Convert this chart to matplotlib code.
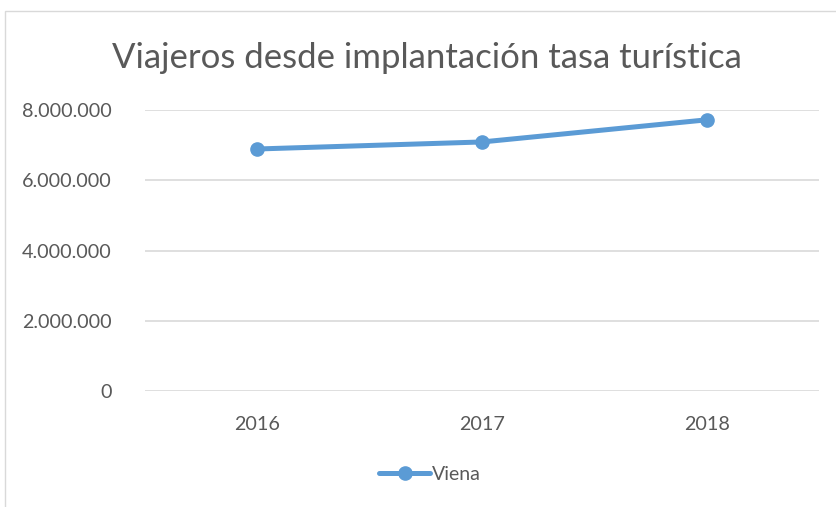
import matplotlib.pyplot as plt
from matplotlib.patches import Rectangle
from matplotlib.ticker import FuncFormatter

years = ['2016', '2017', '2018']
viena = [6890000, 7090000, 7720000]

W, H = 837, 507
plt.rcParams['font.family'] = ['Lato', 'DejaVu Sans']
fig = plt.figure(figsize=(W / 100, H / 100), dpi=100)

# chart frame (cut off on right and bottom like the screenshot)
fig.patches.append(Rectangle((5 / W, -0.1), 1.2, 1 - 11 / H + 0.1, transform=fig.transFigure,
                             fill=False, edgecolor='#d9d9d9', linewidth=1))

ax = fig.add_axes([145 / W, 1 - 391 / H, (819 - 145) / W, (391 - 110) / H])
x = range(len(years))
ax.plot(x, viena, color='#5b9bd5', linewidth=3.6, marker='o', markersize=9.5,
        solid_capstyle='round', label='Viena', zorder=3)
ax.set_xlim(-0.5, 2.5)
ax.set_ylim(0, 8000000)
ax.set_yticks([0, 2000000, 4000000, 6000000, 8000000])
ax.yaxis.set_major_formatter(FuncFormatter(lambda v, p: f'{int(v):,}'.replace(',', '.')))
ax.set_xticks(list(x))
ax.set_xticklabels(years)
ax.grid(axis='y', color='#d9d9d9', linewidth=1.2)
ax.set_axisbelow(True)
for s in ax.spines.values():
    s.set_visible(False)
ax.tick_params(length=0, labelsize=14.2, colors='#595959')
ax.tick_params(axis='y', pad=24)
ax.tick_params(axis='x', pad=18)

fig.text(427 / W, 1 - 58 / H, 'Viajeros desde implantación tasa turística',
         ha='center', va='center', fontsize=25, color='#595959')

fig.legend(loc='center', bbox_to_anchor=(430 / W, 1 - 474 / H), frameon=False,
           fontsize=14, labelcolor='#595959', handlelength=2.6, handletextpad=0.1)

fig.savefig('out.png', dpi=100)
